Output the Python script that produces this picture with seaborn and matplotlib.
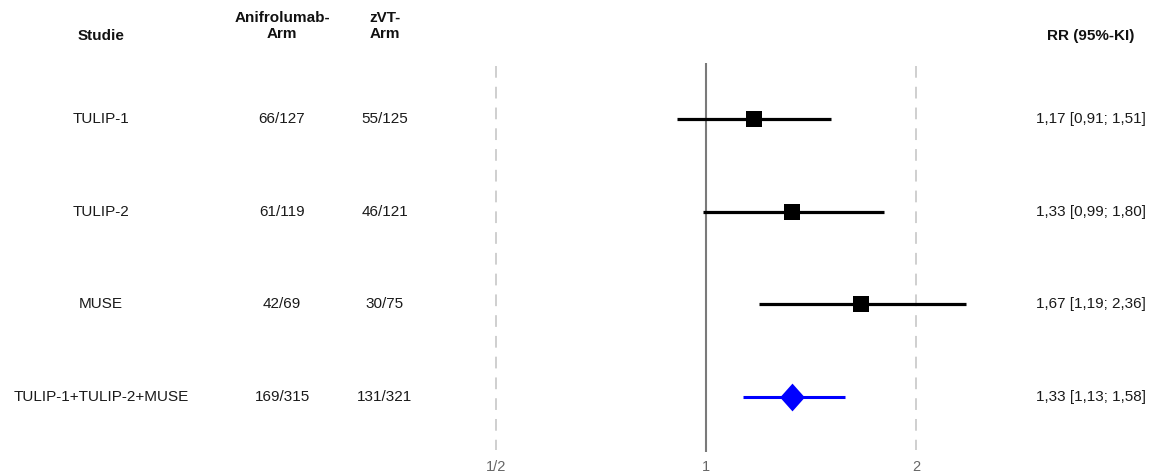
import numpy as np
import pandas as pd
import seaborn as sns
import matplotlib
matplotlib.use("Agg")
import matplotlib.pyplot as plt
from matplotlib.path import Path
from matplotlib.transforms import blended_transform_factory

sns.set_theme(style="white")
plt.rcParams["font.family"] = ["Liberation Sans", "DejaVu Sans"]

# Study data
studies = ["TULIP-1", "TULIP-2", "MUSE", "TULIP-1+TULIP-2+MUSE"]
arm_anifrolumab = ["66/127", "61/119", "42/69", "169/315"]
arm_zvt = ["55/125", "46/121", "30/75", "131/321"]
rr = [1.17, 1.33, 1.67, 1.33]
ci_low = [0.91, 0.99, 1.19, 1.13]
ci_high = [1.51, 1.80, 2.36, 1.58]
is_pooled = [False, False, False, True]

tick_values = [0.5, 1, 2]
tick_labels = ["1/2", "1", "2"]

headers = ["Studie", "Anifrolumab-\nArm", "zVT-\nArm", "RR (95%-KI)"]

def fmt(v):
    return f"{v:.2f}".replace(".", ",")

rr_labels = [f"{fmt(r)} [{fmt(l)}; {fmt(h)}]" for r, l, h in zip(rr, ci_low, ci_high)]

df = pd.DataFrame({
    "study": studies, "row": np.arange(len(studies)), "rr": rr,
    "lo": ci_low, "hi": ci_high, "pooled": is_pooled,
})

W, H = 1154, 475
fig = plt.figure(figsize=(W / 100, H / 100), dpi=100)
ax = fig.add_axes([0, 0, 1, 1])
ax.set_xscale("log", base=2)

# x: value 1 sits at 706 px, one doubling spans 210 px
px_per_oct = 210.0
x0 = 706.0
ax.set_xlim(2 ** ((0 - x0) / px_per_oct), 2 ** ((W - x0) / px_per_oct))
# y: rows spaced ~92.7 px, first row at 119 px
row_top, row_step = 119.0, 92.7
ax.set_ylim((H - row_top) / row_step, (0 - row_top) / row_step)
ax.axis("off")

def ypx(p):
    return (p - row_top) / row_step

# Reference lines
for v in tick_values:
    if v == 1:
        ax.plot([v, v], [ypx(63), ypx(452)], color="#7a7a7a", lw=1.5, solid_capstyle="butt")
    else:
        ax.plot([v, v], [ypx(66), ypx(450)], color="#cccccc", lw=1.3,
                dashes=(6.5, 5))

# Confidence intervals
study_df = df[~df["pooled"]]
pooled_df = df[df["pooled"]]
ax.hlines(study_df["row"], study_df["lo"], study_df["hi"], color="black", lw=2.3)
ax.hlines(pooled_df["row"], pooled_df["lo"], pooled_df["hi"], color="#0000ff", lw=2.2)

# Point estimates
sns.scatterplot(data=study_df, x="rr", y="row", marker="s", s=118,
                color="black", edgecolor="black", linewidth=0, ax=ax, zorder=3)
diamond = Path([(0, 1), (0.89, 0), (0, -1), (-0.89, 0), (0, 1)],
               [Path.MOVETO, Path.LINETO, Path.LINETO, Path.LINETO, Path.CLOSEPOLY])
sns.scatterplot(data=pooled_df, x="rr", y="row", marker=diamond, s=400,
                color="#0000ff", edgecolor="#0000ff", linewidth=0, ax=ax, zorder=3)
if ax.get_legend() is not None:
    ax.get_legend().remove()

# Text columns (x in figure fraction, y in row units)
tr = blended_transform_factory(fig.transFigure, ax.transData)
col_x = [101 / W, 282 / W, 385 / W, 1091 / W]
txt_col = "#1a1a1a"
fs = 11

for cx, h in zip(col_x, headers):
    if "\n" in h:
        ax.text(cx, ypx(26), h, transform=tr, ha="center", va="center",
                fontsize=fs, fontweight="bold", color="#111111", linespacing=1.2)
    else:
        ax.text(cx, ypx(36), h, transform=tr, ha="center", va="center",
                fontsize=fs, fontweight="bold", color="#111111")

for i in range(len(studies)):
    for cx, s in zip(col_x, [studies[i], arm_anifrolumab[i], arm_zvt[i], rr_labels[i]]):
        ax.text(cx, i, s, transform=tr, ha="center", va="center",
                fontsize=fs, color=txt_col)

# Axis tick labels
for v, lab in zip(tick_values, tick_labels):
    ax.text(v, ypx(467), lab, ha="center", va="center", fontsize=10.5, color="#666666")

fig.savefig("out.png", dpi=100)
